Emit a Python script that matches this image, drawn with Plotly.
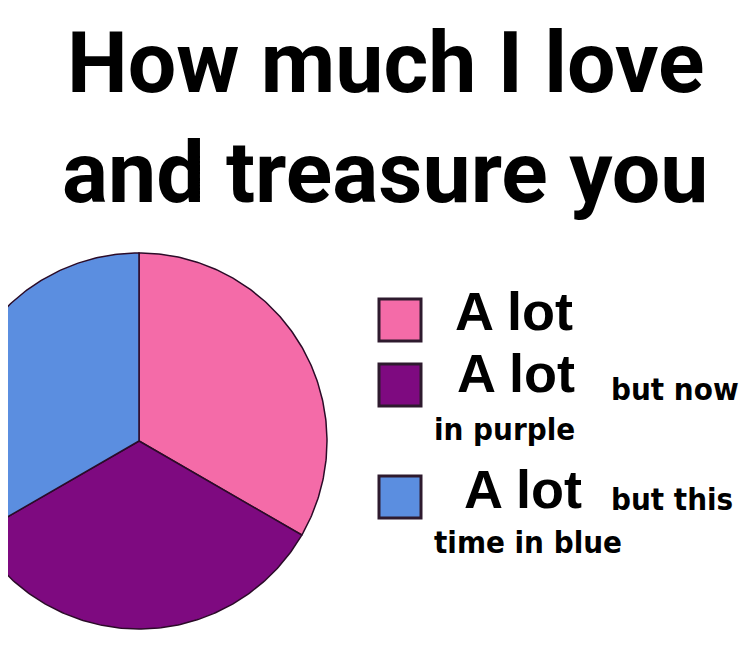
import numpy as np
import plotly.graph_objects as go

# ---- data ----
title_lines = ["How much I love", "and treasure you"]
categories = ["A lot", "A lot but now in purple", "A lot but this time in blue"]
values = [1, 1, 1]
colors = ["#F46BA8", "#7E0A80", "#5B8EE0"]
legend_main = ["A lot", "A lot", "A lot"]
legend_side = ["", "but now", "but this"]
legend_wrap = ["", "in purple", "time in blue"]

W, H = 750, 669
PAD = 8                      # default page body margin
CX, CY, R = 139, 441, 188
EDGE = "#2B0B28"

fig = go.Figure()

# pie wedges, clockwise from 12 o'clock
total = float(sum(values))
start = 90.0
for name, v, c in zip(categories, values, colors):
    sweep = v / total * 360.0
    th = np.radians(np.linspace(start, start - sweep, 181))
    xs = np.concatenate([[CX], CX + R * np.cos(th), [CX]])
    ys = np.concatenate([[CY], CY - R * np.sin(th), [CY]])
    fig.add_trace(go.Scatter(x=xs, y=ys, mode="lines", fill="toself",
                             fillcolor=c, line=dict(color=EDGE, width=1.5),
                             name=name, hoverinfo="name", showlegend=False))
    start -= sweep

# legend squares
row_y = [320, 385, 497]
for i, c in enumerate(colors):
    fig.add_shape(type="rect", xref="x", yref="y",
                  x0=379, x1=421, y0=row_y[i] - 21, y1=row_y[i] + 21,
                  fillcolor=c, line=dict(color="#2E1A2E", width=3))

big = dict(family="Liberation Sans, Arial, sans-serif", size=54, color="black", weight="bold")
cond = dict(family="DejaVu Sans Condensed, Liberation Sans Narrow, Arial Narrow, sans-serif",
            size=31, color="black", weight="bold")

main_x = [453, 455, 462]
main_baseline = [330, 392, 508]
for i in range(3):
    fig.add_annotation(x=main_x[i], y=main_baseline[i] - 19, xref="x", yref="y",
                       text=legend_main[i], showarrow=False, xanchor="left",
                       yanchor="middle", font=big)
side_baseline = [0, 400, 510]
wrap_baseline = [0, 440, 553]
for i in range(1, 3):
    fig.add_annotation(x=609, y=side_baseline[i] - 11, xref="x", yref="y",
                       text=legend_side[i], showarrow=False, xanchor="left",
                       yanchor="middle", font=cond)
    fig.add_annotation(x=432, y=wrap_baseline[i] - 11, xref="x", yref="y",
                       text=legend_wrap[i], showarrow=False, xanchor="left",
                       yanchor="middle", font=cond)

# title
title_font = dict(family="Roboto, Liberation Sans, Arial, sans-serif", size=86,
                  color="black", weight="bold")
title_baseline = [93, 203]
for i, t in enumerate(title_lines):
    fig.add_annotation(x=385, y=title_baseline[i] - 31, xref="x", yref="y",
                       text=t, showarrow=False, xanchor="center",
                       yanchor="middle", font=title_font)

fig.update_layout(
    width=W - PAD, height=H - PAD, margin=dict(l=0, r=0, t=0, b=0),
    paper_bgcolor="white", plot_bgcolor="white", showlegend=False,
    xaxis=dict(range=[PAD, W], visible=False, fixedrange=True),
    yaxis=dict(range=[H, PAD], visible=False, fixedrange=True),
)
fig.write_html("out.html")
